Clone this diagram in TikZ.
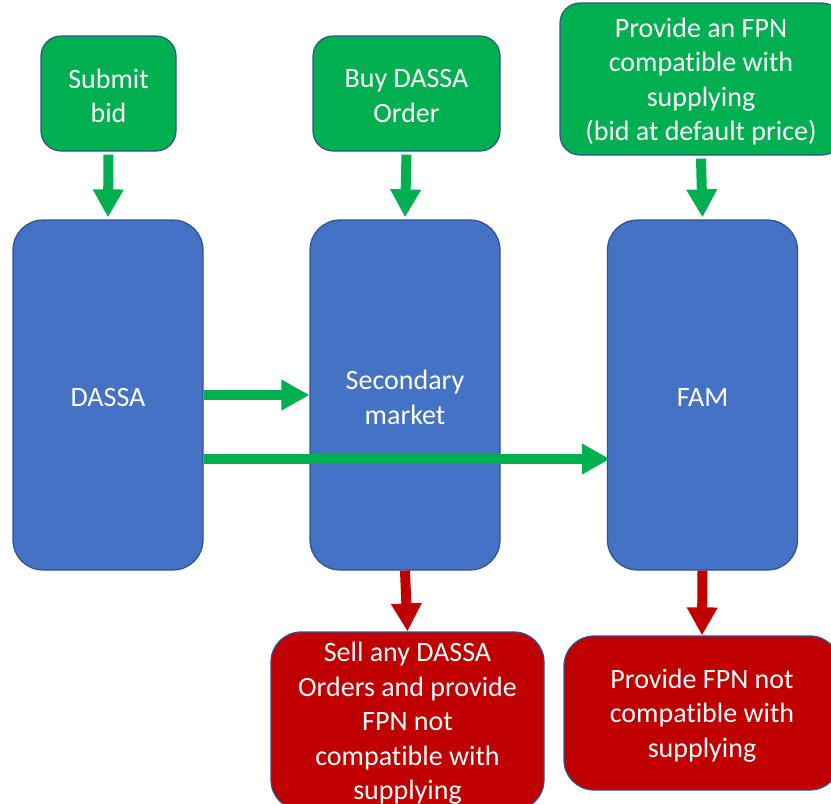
\documentclass[tikz,border=0pt]{standalone}
\usepackage{fontspec}
\setmainfont[Ligatures=NoCommon]{Carlito}
\usetikzlibrary{arrows.meta}
\definecolor{gfill}{HTML}{00B050}
\definecolor{bfill}{HTML}{4472C4}
\definecolor{rfill}{HTML}{C00000}
\definecolor{edge}{HTML}{2F528F}
\tikzset{
  lbl/.style={text=white, align=center, font=\fontsize{28}{34.5}\selectfont, inner sep=0pt, yshift=-2.5pt},
  box/.style={draw=edge, line width=1.2pt, inner sep=0pt},
  txt/.style={label={[lbl]center:#1}},
  gbox/.style={box, fill=gfill, rounded corners=20pt},
  bbox/.style={box, fill=bfill, rounded corners=30pt, minimum width=190pt, minimum height=350pt},
  rbox/.style={box, fill=rfill, rounded corners=30pt},
  garrow/.style={draw=gfill, line width=10pt, -{Triangle[width=29pt,length=28pt]}},
  rarrow/.style={draw=rfill, line width=10pt, -{Triangle[width=29pt,length=28pt]}},
}
\begin{document}
\begin{tikzpicture}[x=1pt,y=-1pt]
\useasboundingbox (0,0) rectangle (831,804);
\clip (0,0) rectangle (831,804);
% top green boxes
\node[gbox, minimum width=135pt, minimum height=115pt, txt={Submit\\bid}] (sub) at (108.5,93.5) {};
\node[gbox, minimum width=187pt, minimum height=115pt, txt={Buy DASSA\\Order}] (buy) at (406.5,93.5) {};
\node[gbox, minimum width=282pt, minimum height=152pt, txt={Provide an FPN\\compatible with\\supplying\\(bid at default price)}] (fpn) at (701,79) {};
% blue boxes
\node[bbox, txt={DASSA}] (dassa) at (108,395) {};
\node[bbox, txt={Secondary\\market}] (sec) at (405,395) {};
\node[bbox, txt={FAM}] (fam) at (702.5,395) {};
% red boxes
\node[rbox, minimum width=273pt, minimum height=178pt, txt={Sell any DASSA\\Orders and provide\\FPN not\\compatible with\\supplying}] (sell) at (407.5,721) {};
\node[rbox, minimum width=276pt, minimum height=154pt, txt={Provide FPN not\\compatible with\\supplying}] (prov) at (702,713) {};
% arrows
\draw[garrow] ([yshift=-3pt]sub.south) -- ([yshift=2pt]dassa.north);
\draw[garrow] ([yshift=-3pt]buy.south) -- ([yshift=2pt]sec.north);
\draw[garrow] ([yshift=-3pt]fpn.south) -- ([yshift=2pt]fam.north);
\draw[garrow] (dassa.east) -- (sec.west);
\draw[garrow] ([yshift=-64pt]dassa.east) -- ([yshift=-64pt,xshift=3pt]fam.west);
\draw[rarrow] (sec.south) -- (sell.north);
\draw[rarrow] (fam.south) -- (prov.north);
\end{tikzpicture}
\end{document}
